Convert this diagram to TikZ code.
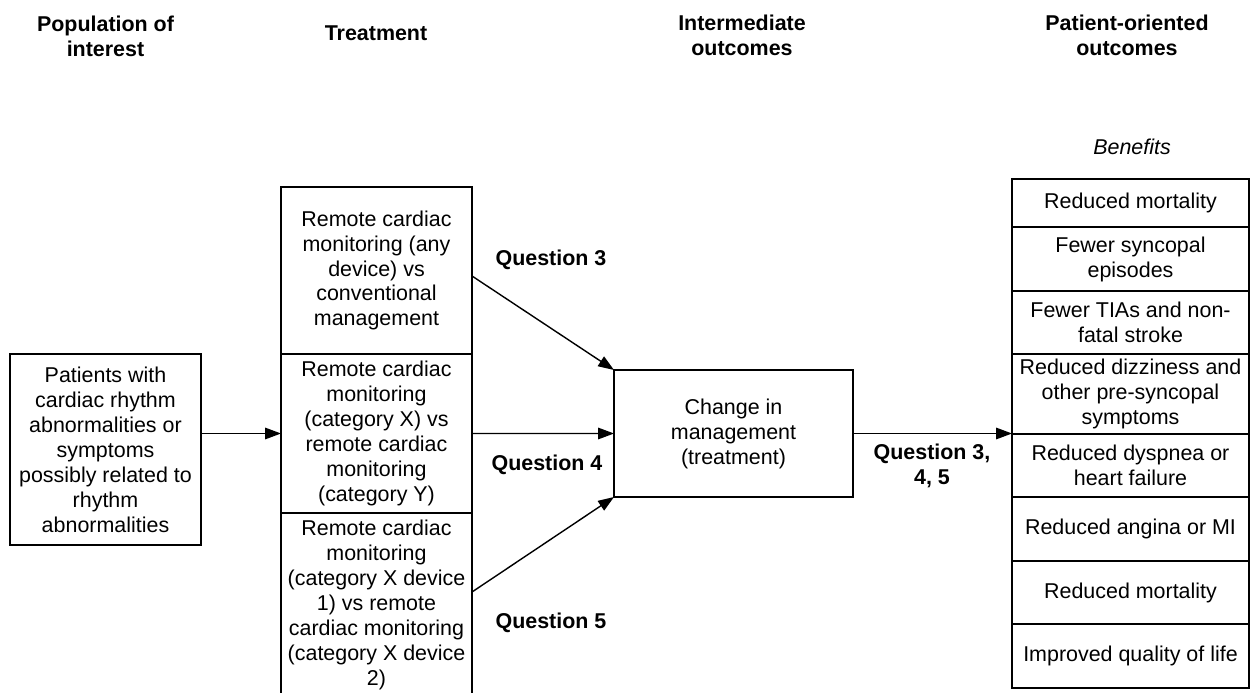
\documentclass[tikz,border=0pt]{standalone}
\usepackage{fontspec}
\setmainfont{Liberation Sans}
\usetikzlibrary{positioning,arrows.meta}

\begin{document}
\begin{tikzpicture}[>={Triangle[length=9pt,width=6.5pt]}, font=\fontsize{12.2}{14.2}\selectfont]
		\tikzstyle{every edge}=[draw, line width=0.8pt]
		\tikzstyle{box}=[draw, line width=0.8pt, align=center, inner sep=0pt, outer sep=0pt, minimum width=3.82cm]
		\tikzstyle{outcome}=[box, minimum width=4.74cm]
		\tikzstyle{head}=[align=center, font=\fontsize{12.2}{14.2}\selectfont\bfseries]

		\useasboundingbox (0,0) rectangle (25,-13.86);

		% column headers
		\node (pophead) at (2.11,-0.72) [head] {Population of\\interest};
		\node (trthead) at (7.52,-0.66) [head] {Treatment};
		\node (interhead) at (14.84,-0.71) [head] {Intermediate\\outcomes};
		\node (pathead) at (22.54,-0.71) [head] {Patient-oriented\\outcomes};
		\node (benhead) at (22.64,-2.94) {\itshape Benefits};

		\node (pop) at (2.11,-8.99) [box, minimum height=3.82cm] {Patients with\\cardiac rhythm\\abnormalities or\\symptoms\\possibly related to\\rhythm\\abnormalities};

		\node (trtany) at (7.53,-5.41) [box, minimum height=3.34cm] {Remote cardiac\\monitoring (any\\device) vs\\conventional\\management};
		\node (trtcat) [box, minimum height=3.18cm, below=0pt of trtany] {Remote cardiac\\monitoring\\(category X) vs\\remote cardiac\\monitoring\\(category Y)};
		\node (trtdev) [box, minimum height=3.68cm, below=0pt of trtcat] {Remote cardiac\\monitoring\\(category X device\\1) vs remote\\cardiac monitoring\\(category X device\\2)};

		\node (change) at (14.67,-8.67) [box, minimum width=4.78cm, minimum height=2.54cm] {Change in\\management\\(treatment)};

		\node (ben1) at (22.61,-3.58) [outcome, anchor=north, minimum height=0.96cm] {Reduced mortality};
		\node (ben2) [outcome, minimum height=1.28cm, below=0pt of ben1] {Fewer syncopal\\episodes};
		\node (ben3) [outcome, minimum height=1.26cm, below=0pt of ben2] {Fewer TIAs and non-\\fatal stroke};
		\node (ben4) [outcome, minimum height=1.60cm, below=0pt of ben3] {Reduced dizziness and\\other pre-syncopal\\symptoms};
		\node (ben5) [outcome, minimum height=1.26cm, below=0pt of ben4] {Reduced dyspnea or\\heart failure};
		\node (ben6) [outcome, minimum height=1.28cm, below=0pt of ben5] {Reduced angina or MI};
		\node (ben7) [outcome, minimum height=1.26cm, below=0pt of ben6] {Reduced mortality};
		\node (ben8) [outcome, minimum height=1.28cm, below=0pt of ben7] {Improved quality of life};

		\node (q3) at (11.02,-5.2) [head] {Question 3};
		\node (q4) at (10.94,-9.3) [head] {Question 4};
		\node (q5) at (11.02,-12.46) [head] {Question 5};
		\node (q345) at (18.64,-9.31) [head] {Question 3,\\4, 5};

		\path [->] (pop.east |- trtcat.west) edge (trtcat.west);

		\path [->] ([yshift=-0.11cm]trtany.east) edge (change.north west);
		\path [->] (trtcat.east) edge (change.west);
		\path [->] ([yshift=0.26cm]trtdev.east) edge (change.south west);

		\path [->] (change.east) edge (change.east -| ben5.north west);
	\end{tikzpicture}
\end{document}
